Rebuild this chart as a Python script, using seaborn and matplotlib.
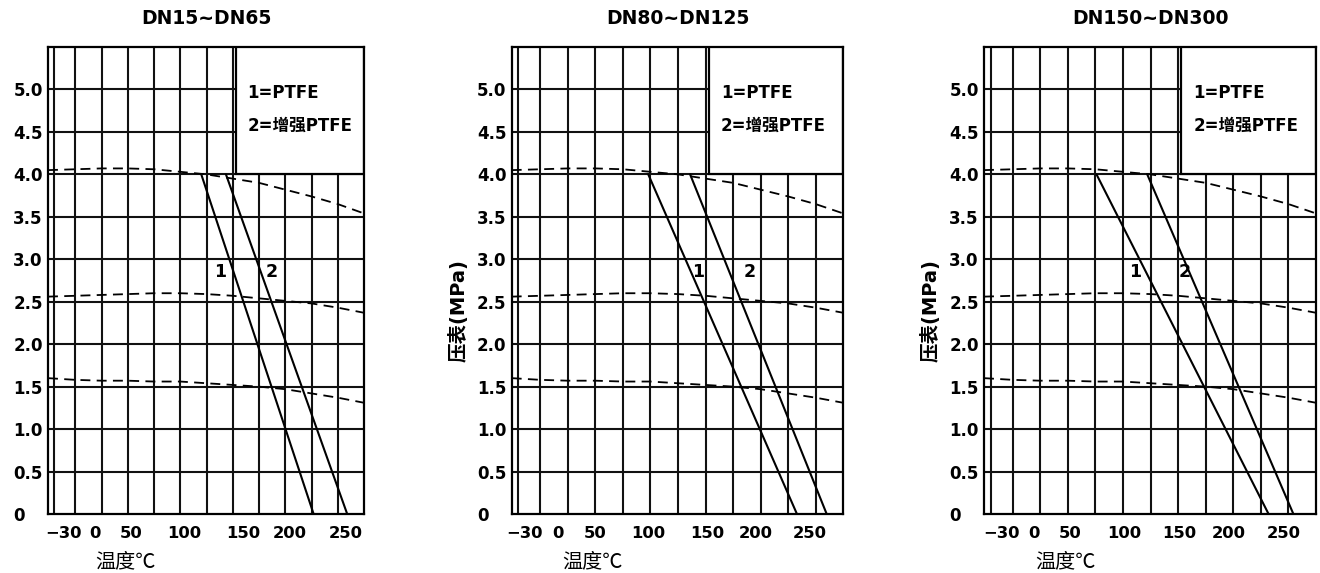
import matplotlib
matplotlib.use('Agg')
import matplotlib.pyplot as plt
from matplotlib.patches import Rectangle
import pandas as pd
import seaborn as sns

# panel titles (pipe size ranges)
titles = ['DN15~DN65', 'DN80~DN125', 'DN150~DN300']

# dashed body rating curves (same in every panel)
curve_temp = [-26, 0, 25, 50, 75, 100, 125, 150, 175, 200, 225, 250, 275]
curve_top = [4.05, 4.06, 4.07, 4.07, 4.06, 4.03, 4.00, 3.95, 3.90, 3.82, 3.74, 3.65, 3.54]
curve_mid = [2.56, 2.57, 2.58, 2.59, 2.60, 2.60, 2.59, 2.57, 2.54, 2.51, 2.48, 2.43, 2.37]
curve_low = [1.60, 1.58, 1.57, 1.57, 1.56, 1.56, 1.54, 1.52, 1.50, 1.47, 1.42, 1.37, 1.31]

# seat limit lines: temperature at 4.0 MPa and at 0 MPa, one pair per panel
seat_press = [4.0, 0.0]
ptfe_temp = [[120, 227], [98, 233], [76, 232]]
rptfe_temp = [[143.5, 259], [136, 260], [122, 254.5]]

# the "1" / "2" markers next to the lines
mark_temp_1 = [138, 143, 111]
mark_temp_2 = [187, 190, 156]
mark_press = 2.85

x_ticklabels = ['\u221230', '0', '50', '100', '150', '200', '250']
y_ticks = [0, 0.5, 1.0, 1.5, 2.0, 2.5, 3.0, 3.5, 4.0, 4.5, 5.0]
y_ticklabels = ['0', '0.5', '1.0', '1.5', '2.0', '2.5', '3.0', '3.5', '4.0', '4.5', '5.0']
legend_lines = ['1=PTFE', '2=\u589e\u5f3aPTFE']
xlabel = '\u6e29\u5ea6\u2103'
ylabel = '\u538b\u8868(MPa)'

# layout only: grid, tick label spots (the scan's labels are not on the grid), axes boxes
grid_x = [-20, 0, 25, 50, 75, 100, 125, 150, 175, 200, 225, 250]
grid_y = [0.5, 1.0, 1.5, 2.0, 2.5, 3.0, 3.5, 4.0, 4.5, 5.0]
xtick_pos = [[-11.6, 18.3, 52.8, 103.6, 159.7, 204.4, 257.4],
             [-14.6, 16.1, 49.4, 98.2, 151.4, 195.2, 244.9],
             [-10.5, 19.7, 51.7, 101.4, 151.4, 196.0, 245.7]]
boxes = [[48, 316], [511.7, 331.5], [984, 332]]
W, H = 1320, 573
top_px, bot_px = 47, 514
box_left = 153

sns.set_style('white')
plt.rcParams['font.family'] = ['DejaVu Sans', 'Noto Sans CJK SC']
plt.rcParams['font.weight'] = 'bold'
plt.rcParams['text.color'] = 'black'
plt.rcParams['xtick.color'] = 'black'
plt.rcParams['ytick.color'] = 'black'

fig = plt.figure(figsize=(W / 100, H / 100), dpi=100)

curves = pd.DataFrame({'temp': curve_temp, 'top': curve_top,
                       'mid': curve_mid, 'low': curve_low})

for i in range(3):
    left, width = boxes[i]
    ax = fig.add_axes([left / W, 1 - bot_px / H, width / W, (bot_px - top_px) / H])

    for col in ['top', 'mid', 'low']:
        sns.lineplot(data=curves, x='temp', y=col, ax=ax, color='black',
                     linewidth=1.3, linestyle=(0, (5.5, 3.5)), zorder=3)
    sns.lineplot(x=ptfe_temp[i], y=seat_press, ax=ax, color='black',
                 linewidth=1.5, zorder=4)
    sns.lineplot(x=rptfe_temp[i], y=seat_press, ax=ax, color='black',
                 linewidth=1.5, zorder=4)

    ax.set_xlim(-26, 275)
    ax.set_ylim(0, 5.5)

    ax.xaxis.remove_overlapping_locs = False
    ax.yaxis.remove_overlapping_locs = False
    ax.set_xticks(grid_x, minor=True)
    ax.set_yticks(grid_y, minor=True)
    ax.grid(which='major', visible=False)
    ax.grid(which='minor', color='#111111', linewidth=1.5)
    ax.set_axisbelow(True)

    ax.set_xticks(xtick_pos[i])
    ax.set_xticklabels(x_ticklabels, fontsize=11.8)
    ax.set_yticks(y_ticks)
    ax.set_yticklabels(y_ticklabels, fontsize=12)
    for t in ax.get_yticklabels():
        t.set_ha('left')
    ax.tick_params(axis='both', which='both', length=0)
    ax.tick_params(axis='y', pad=25)
    ax.tick_params(axis='x', pad=9)

    for s in ax.spines.values():
        s.set_color('black')
        s.set_linewidth(1.6)

    # legend box sits over the grid in the top right corner
    ax.add_patch(Rectangle((box_left, 4.0), 275 - box_left, 1.6, facecolor='white',
                           edgecolor='black', linewidth=1.6, zorder=2.5))
    ax.text(box_left + 11, 4.96, legend_lines[0], fontsize=12, va='center', zorder=5)
    ax.text(box_left + 11, 4.57, legend_lines[1], fontsize=12, va='center', zorder=5)

    ax.text(mark_temp_1[i], mark_press, '1', fontsize=12.5, ha='center', va='center', zorder=5)
    ax.text(mark_temp_2[i], mark_press, '2', fontsize=12.5, ha='center', va='center', zorder=5)

    ax.set_xlabel('')
    ax.set_ylabel('')
    ax.text(0.5, 1 + 29 / (bot_px - top_px), titles[i], transform=ax.transAxes,
            ha='center', va='center', fontsize=13.5)
    ax.text(0.245, -0.102, xlabel, transform=ax.transAxes, ha='center', va='center',
            fontsize=14.5, fontweight='normal', family=['Noto Sans CJK SC', 'DejaVu Sans'])
    if i > 0:
        ax.text(-53 / width, 0.435, ylabel, transform=ax.transAxes, rotation=90,
                ha='center', va='center', fontsize=14)

fig.savefig('out.png', dpi=100)
